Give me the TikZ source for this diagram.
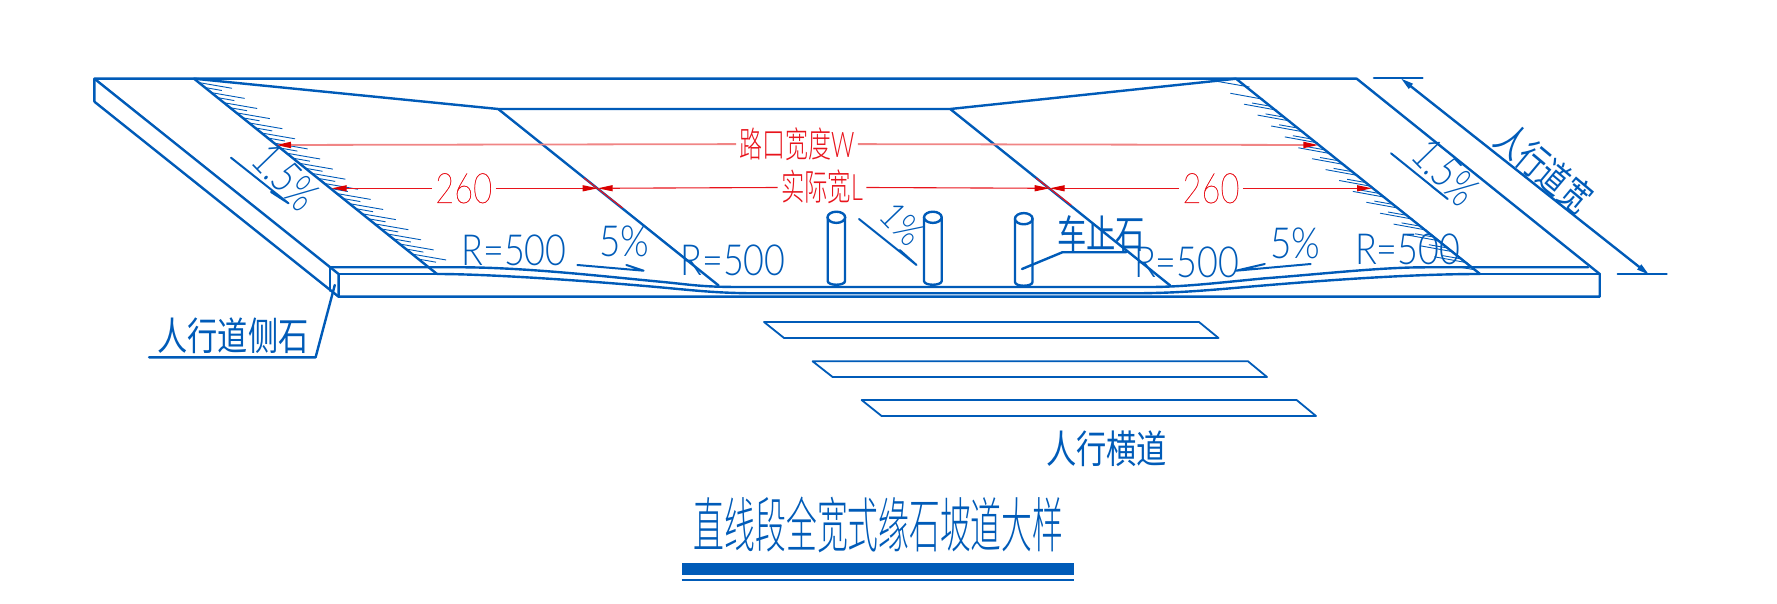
\documentclass[tikz,border=0pt]{standalone}
\usepackage{graphicx}
\usepackage{fontspec}
\usetikzlibrary{arrows.meta}
\setmainfont{Lato Light}
\newfontfamily\thinlat{Lato Thin}[FakeBold=0.8]
\newfontfamily\cjkl{Noto Sans CJK SC Light}
\newfontfamily\cjkr{Noto Sans CJK SC}
\newcommand\fitbox[3]{\resizebox*{\dimexpr #1pt/2\relax}{\dimexpr #2pt/2\relax}{#3}}
\definecolor{rdblue}{HTML}{005BB8}
\definecolor{rdred}{HTML}{E8141C}
\definecolor{rdpale}{HTML}{F08585}
\tikzset{
  edge/.style={draw=rdblue,line width=1.2pt,line join=round,line cap=round},
  thinedge/.style={draw=rdblue,line width=.9pt,line join=round},
  hatch/.style={draw=rdblue,line width=.45pt},
  lab/.style={inner sep=0pt,text=rdblue},
  redlab/.style={inner sep=1.5pt,text=rdred},
  reddim/.style={draw=rdred,line width=.55pt},
  paledim/.style={draw=rdpale,line width=.9pt},
  redhead/.style={-{Triangle[length=7.5pt,width=3pt,color=red!85!black]}},
  bluehead/.style={-{Triangle[length=6.5pt,width=3pt,color=rdblue]}},
}
\begin{document}
\begin{tikzpicture}[x=.5pt,y=-.5pt]
\useasboundingbox (0,0) rectangle (1777,604);
% key points
\coordinate (TL) at (94.4,78.7);
\coordinate (TLb) at (94.4,101.7);
\coordinate (SL) at (338.6,274);
\coordinate (SLb) at (338.6,296.7);
\coordinate (BC) at (329.8,267.3);
\coordinate (TR) at (1356.7,78.7);
\coordinate (SR) at (1599.7,274);
\coordinate (SRb) at (1599.7,296.7);
\coordinate (IL) at (194,78.7);
\coordinate (ILb) at (437,274);
\coordinate (IR) at (1236,78.7);
\coordinate (IRb) at (1480,274);
\coordinate (RL) at (498.2,109);
\coordinate (RR) at (950.2,109);
\coordinate (RLb) at (718.6,285.5);
\coordinate (RRb) at (1170.2,285.5);
% slab
\draw[edge] (TLb) -- (TL) -- (TR) -- (SR) -- (SRb) -- (SLb) -- (TLb);
\draw[edge] (TL) -- (SL) -- (SLb);
\draw[edge] (BC) -- (329.8,290.7);
\draw[edge] (IL) -- (ILb);
\draw[edge] (IR) -- (IRb);
\draw[edge] (IL) -- (RL) -- (RR) -- (1215,81) -- (IR);
\draw[edge] (RL) -- (RLb);
\draw[edge] (RR) -- (RRb);
\draw[edge] (SL) -- (ILb);
\draw[edge] (IRb) -- (SR);
% kerb curves
\draw[edge] (BC) -- (465.7,267.3) .. controls (530,268) and (600,276) .. (660,281.7)
  .. controls (690,284.5) and (700,287) .. (740,287) -- (1150,287)
  .. controls (1185,287) and (1225,282) .. (1265,278.3)
  .. controls (1320,274.2) and (1380,267.3) .. (1425,267.3) -- (1588,267.3);
\draw[edge] (ILb) .. controls (490,274) and (590,281) .. (660,287.3)
  .. controls (700,291) and (720,293.3) .. (760,293.3) -- (1130,293.3)
  .. controls (1170,293.3) and (1200,291) .. (1240,287.5)
  .. controls (1320,280.5) and (1410,274) .. (IRb);
% hatching
\foreach \i in {0,...,17}{
  \draw[hatch] (198.5+12.6*\i,82.5+10.1*\i) -- ++(33.5,5.8);
  \draw[hatch] (204.8+12.6*\i,87.5+10.1*\i) -- ++(17,3);
}
\draw[hatch] (1215,81) -- (1249.5,87);
\foreach \i in {0,...,15}{
  \draw[hatch] (1230.4+13.6*\i,93.3+10.9*\i) -- ++(33,6);
  \draw[hatch] (1252+13.6*\i,103+10.9*\i) -- ++(17,3);
}
% posts
\foreach \xa/\xb/\yt/\yb in {827.7/845/217.3/285,924/941.7/217.3/285,1015/1032.5/218.7/286}{
  \draw[edge,fill=white] (\xa,\yt) -- (\xa,\yb-4) .. controls (\xa,\yb+1) and (\xb,\yb+1) .. (\xb,\yb-4) -- (\xb,\yt);
  \draw[edge,fill=white] ({(\xa+\xb)/2},\yt) ellipse [x radius=4.4pt,y radius=2.8pt];
}
% crosswalk
\draw[thinedge] (764,322) -- (1199,322) -- (1218.5,338) -- (784,338) -- cycle;
\draw[thinedge] (812.6,361.3) -- (1248,361.3) -- (1267,377) -- (832.6,377) -- cycle;
\draw[thinedge] (861.6,400) -- (1296.6,400) -- (1316,416) -- (881.6,416) -- cycle;
% red dimensions
\coordinate (WL) at (276,145);
\coordinate (WR) at (1318.4,145);
\node[redlab] (wtxt) at (797,144) {\fitbox{115}{33}{{\cjkl 路口宽度}W}};
\draw[paledim,redhead] (wtxt) -- (WL);
\draw[paledim,redhead] (wtxt) -- (WR);
\coordinate (LA) at (331.7,188.3);
\coordinate (LB) at (597.7,188.3);
\coordinate (LC) at (1049.7,188.3);
\coordinate (LD) at (1372,188.3);
\node[redlab] (t260a) at (463.7,188.3) {\fitbox{57}{30}{\thinlat 260}};
\node[redlab] (t260b) at (1211,188.3) {\fitbox{57}{30}{\thinlat 260}};
\node[redlab] (ltxt) at (822,187.3) {\fitbox{82}{34}{{\cjkl 实际宽}L}};
\draw[reddim,redhead] (t260a) -- (LA);
\draw[reddim,redhead] (t260a) -- (LB);
\draw[reddim,redhead] (ltxt) -- (LB);
\draw[reddim,redhead] (ltxt) -- (LC);
\draw[reddim,redhead] (t260b) -- (LC);
\draw[reddim,redhead] (t260b) -- (LD);
\draw[draw=rdred,line width=.6pt] (584,178) -- (622.6,208);
\draw[draw=rdred,line width=.6pt] (1036,178) -- (1071,205);
% slope arrows
\draw[edge,line width=1pt] (231,157.7) -- (288.5,203.3) -- (271,192);
\draw[edge,line width=1pt] (1391,153.3) -- (1447.7,199) -- (1431.3,186);
\draw[edge,line width=1pt] (859,219) -- (916.5,265) -- (899.7,250);
\draw[edge,line width=1pt] (577.4,265) -- (643.6,270.7) -- (626.4,265);
\draw[edge,line width=1pt] (1310.7,264) -- (1236,270.7) -- (1264.8,264);
% slope & radius text
\node[lab] (r1) at (514,250) {\fitbox{105}{31}{R=500}};
\node[lab] (r2) at (733,260) {\fitbox{105}{31}{R=500}};
\node[lab] (r3) at (1186.5,262) {\fitbox{105}{31}{R=500}};
\node[lab] (r4) at (1407.6,249.3) {\fitbox{105}{31}{R=500}};
\node[lab] (s1) at (624.5,241.7) {\fitbox{50}{31}{5\%}};
\node[lab] (s2) at (1295.4,243.3) {\fitbox{50}{31}{5\%}};
\node[lab,rotate=-46] (s3) at (286,177) {\fitbox{72}{33}{1.5\%}};
\node[lab,rotate=-46] (s4) at (1446,172) {\fitbox{72}{33}{1.5\%}};
\node[lab,rotate=-46] (s5) at (902,224) {\fitbox{44}{27}{1\%}};
% sidewalk width dimension
\coordinate (DA) at (1400.7,78.3);
\coordinate (DB) at (1649.4,275);
\coordinate (DM) at (1525,176.6);
\draw[edge,bluehead] (DM) -- (DA);
\draw[edge,bluehead] (DM) -- (DB);
\draw[edge] (1373.9,78.3) -- (1422.5,78.3);
\draw[edge] (1617.7,274) -- (1666.6,274);
\node[lab,rotate=-40] (swd) at (1544,168.3) {\fitbox{111}{36}{\cjkr 人行道宽}};
% leaders
\node[lab] (kerb) at (233,335.7) {\fitbox{151}{36}{\cjkr 人行道侧石}};
\coordinate (K1) at (149,357.3);
\coordinate (K2) at (315.6,357.3);
\coordinate (K3) at (334.8,285);
\draw[edge] (K1) -- (K2) -- (K3);
\node[lab] (stop) at (1101,234) {\fitbox{88}{36}{\cjkr 车止石}};
\coordinate (P1) at (1022,269);
\coordinate (P2) at (1062.3,252.3);
\coordinate (P3) at (1126,252.3);
\draw[edge] (P1) -- (P2) -- (P3);
\node[lab] (cross) at (1106.7,449) {\fitbox{121}{36}{\cjkr 人行横道}};
% title
\node[lab] (title) at (878.6,525) {\fitbox{369.5}{56}{\cjkl 直线段全宽式缘石坡道大样}};
\fill[rdblue] (681.7,562.7) rectangle (1074,575.3);
\draw[rdblue,line width=.7pt] (681.7,580) -- (1074,580);
\end{tikzpicture}
\end{document}
